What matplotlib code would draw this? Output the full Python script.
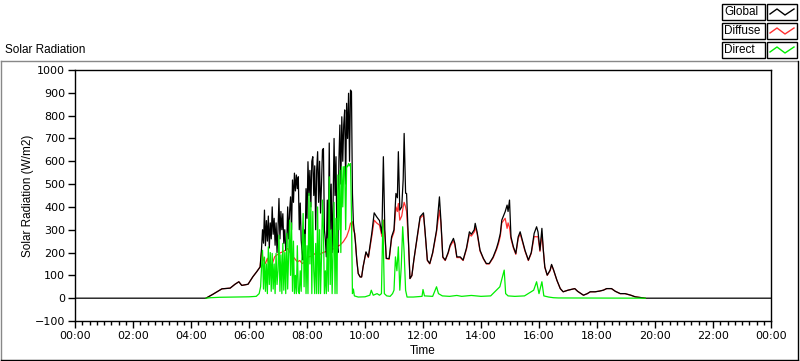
import matplotlib
matplotlib.use('Agg')
import matplotlib.pyplot as plt
from matplotlib.patches import Rectangle
from matplotlib.lines import Line2D
import numpy as np

# time in minutes since midnight, values in W/m2
glob_t = [0, 271, 286, 304, 321, 331, 339, 345, 358, 368, 376, 383,
          386, 388, 390, 392, 394, 396, 398, 400, 402, 404, 406, 408, 410, 412, 414, 416, 418, 420,
          422, 424, 426, 428, 430, 432, 434, 436, 438, 440, 442, 444, 446, 448, 450, 452, 454, 456,
          458, 460, 462, 464, 466, 468, 470, 472, 474, 476, 478, 480, 482, 484, 486, 488, 490, 492,
          494, 496, 498, 500, 502, 504, 506, 508, 510, 512, 514, 516, 518, 520, 522, 524, 526, 528,
          530, 532, 534, 536, 538, 540, 542, 544, 546, 548, 550, 552, 554, 556, 558, 560, 562, 564,
          566, 568, 570, 572, 574, 576,
          580, 583, 586, 590, 593, 596, 602, 607, 614,
          619, 624, 630, 635, 638, 641, 644, 650, 653, 655, 660, 664, 667, 669, 672, 676, 679, 681, 684, 686,
          690, 693, 697, 701, 707, 714, 721, 724, 729, 734, 740, 748, 754, 757, 761, 766, 772, 776, 783, 786,
          790, 797, 803, 810, 816, 820, 826, 828, 832, 838, 845, 851, 857, 865, 872, 876, 880, 883, 890, 894,
          896, 899, 902, 907, 912, 917, 921, 926, 931, 938, 944, 950, 955, 958, 962, 966, 969, 972, 977, 983,
          986, 990, 997, 1004, 1010, 1020, 1034, 1040, 1052, 1060, 1066, 1076, 1085, 1093, 1100, 1110, 1118,
          1128, 1138, 1150, 1159, 1170, 1180, 1440]
glob_v = [0, 0, 18, 41, 44, 61, 72, 56, 61, 94, 116, 137,
          219, 300, 241, 386, 230, 340, 250, 360, 220, 330, 260, 400, 280, 350, 232, 330, 200, 300,
          437, 260, 380, 300, 370, 240, 300, 210, 225, 400, 260, 380, 444, 300, 518, 420, 548, 470,
          540, 480, 532, 300, 417, 254, 200, 167, 300, 200, 480, 350, 598, 450, 560, 400, 600, 620,
          450, 580, 300, 560, 642, 420, 600, 373, 500, 649, 656, 300, 256, 181, 430, 220, 680, 300,
          500, 200, 420, 700, 450, 620, 240, 200, 600, 759, 500, 795, 600, 760, 825, 500, 854, 700,
          898, 600, 912, 905, 460, 329,
          250, 167, 108, 93, 93, 137, 203, 181, 284,
          374, 357, 340, 284, 620, 300, 174, 174, 230, 269, 300, 459, 440, 642, 386, 400, 520, 722, 460, 459,
          240, 86, 100, 167, 254, 357, 374, 300, 167, 152, 200, 298, 444, 342, 181, 167, 200, 232, 262, 240,
          181, 181, 167, 220, 291, 280, 300, 328, 290, 210, 174, 152, 152, 180, 218, 247, 284, 342, 379, 408,
          380, 430, 269, 225, 196, 269, 291, 250, 210, 167, 200, 284, 313, 290, 210, 306, 210, 137, 101, 123,
          148, 125, 79, 42, 28, 35, 42, 30, 13, 20, 28, 28, 31, 35, 42, 42, 30,
          20, 20, 13, 6, 3, 0, 0]

diff_t = [271, 286, 304, 321, 331, 339, 345, 358, 368, 376, 383, 386, 390, 394, 398, 403, 408, 413, 418,
          425, 432, 440, 445, 452, 460, 465, 470, 477, 483, 490, 497, 505, 512, 520, 527, 534, 541, 548, 555,
          562, 567, 570, 574, 576, 579, 583, 586, 590, 593, 596, 602, 607, 614, 619, 624, 630, 635, 638, 641,
          644, 650, 653, 655, 660, 664, 667, 669, 672, 676, 679, 681, 684, 686, 690, 693, 697, 701, 707, 714,
          721, 724, 729, 734, 740, 748, 754, 757, 761, 766, 772, 776, 783, 786, 790, 797, 803, 810, 816, 820,
          826, 828, 832, 838, 845, 851, 857, 865, 872, 876, 880, 883, 890, 894, 896, 899, 902, 907, 912, 917,
          921, 926, 931, 938, 944, 950, 955, 958, 962, 966, 969, 972, 977, 983, 986, 990, 997, 1004, 1010,
          1020, 1034, 1040, 1052, 1060, 1066, 1076, 1085, 1093, 1100, 1110, 1118, 1128, 1138, 1150, 1159,
          1170, 1180]
diff_v = [0, 18, 41, 44, 61, 72, 56, 61, 94, 116, 137, 203, 167, 152, 175, 130, 150, 181, 190,
          199, 205, 218, 200, 180, 159, 165, 152, 160, 181, 185, 196, 190, 199, 205, 218, 215, 225, 232, 247,
          270, 300, 328, 335, 300, 284, 167, 108, 93, 93, 137, 200, 178, 270, 342, 330, 320, 270, 342, 280,
          174, 170, 225, 260, 290, 400, 380, 415, 342, 360, 400, 420, 400, 380, 240, 86, 98, 165, 250, 350,
          365, 295, 165, 150, 196, 290, 386, 330, 178, 165, 196, 226, 252, 232, 178, 178, 165, 215, 280, 272,
          290, 310, 282, 206, 172, 150, 150, 176, 212, 238, 272, 330, 350, 306, 330, 310, 260, 220, 192, 262,
          282, 245, 206, 165, 196, 270, 269, 270, 205, 280, 205, 135, 100, 120, 145, 123, 78, 42, 28,
          35, 42, 30, 13, 20, 28, 28, 31, 35, 42, 42, 30, 20, 20, 13, 6,
          3, 0]

dir_t = [271, 280, 300, 330, 360, 375, 381,
         384, 386, 388, 390, 392, 394, 396, 398, 400, 402, 404, 406, 408, 410, 412, 414, 416, 418,
         420, 422, 424, 426, 428, 430, 432, 434, 436, 438, 440, 442, 444, 446, 448, 450, 452, 454,
         456, 458, 460, 462, 464, 466, 468, 470, 472, 474, 476, 478, 480, 482, 484, 486, 488, 490,
         492, 494, 496, 498, 500, 502, 504, 506, 508, 510, 512, 514, 516, 518, 520, 522, 524, 526,
         528, 530, 532, 534, 536, 538, 540, 542, 544, 546, 548, 550, 552, 554, 556, 558, 560, 562,
         564, 566, 568, 570, 572, 574, 576, 578,
         586, 600, 610, 613, 617,
         625, 630, 634, 637, 640, 645, 652, 657, 660, 663, 666, 669, 672, 675, 678, 681, 684, 687, 700, 718,
         720, 723, 740, 748, 752, 760, 775, 790, 800, 820, 840, 860, 879, 888, 891, 896, 910, 930, 949, 955,
         960, 966, 970, 980, 990, 1000, 1180]
dir_v = [0, 2, 4, 5, 6, 8, 20,
         50, 137, 210, 40, 180, 30, 150, 20, 225, 60, 200, 30, 196, 40, 150, 20, 196, 60,
         120, 276, 30, 190, 20, 240, 35, 200, 20, 284, 40, 200, 342, 100, 330, 30, 250, 20,
         100, 20, 230, 30, 20, 120, 30, 225, 371, 50, 280, 20, 230, 20, 459, 150, 420, 20,
         380, 120, 20, 240, 20, 400, 20, 300, 20, 180, 430, 300, 20, 120, 20, 260, 30, 532,
         60, 300, 20, 200, 420, 20, 350, 20, 540, 300, 561, 200, 576, 400, 576, 576, 300, 580,
         576, 590, 580, 590, 371, 20, 40, 10,
         5, 6, 13, 35, 13,
         20, 13, 20, 342, 20, 10, 8, 20, 35, 181, 120, 225, 35, 137, 313, 200, 35, 5, 5, 8,
         38, 10, 8, 50, 20, 10, 8, 12, 8, 12, 8, 10, 50, 123, 20, 10, 8, 10, 35, 72,
         20, 72, 10, 5, 2, 1, 0]

tick_pos = np.arange(0, 1441, 120)
tick_lab = ['00:00', '02:00', '04:00', '06:00', '08:00', '10:00', '12:00',
            '14:00', '16:00', '18:00', '20:00', '22:00', '00:00']
series = ['Global', 'Diffuse', 'Direct']
colors = ['#000000', '#ff3030', '#00ee00']

W, H = 800, 361
fig = plt.figure(figsize=(W / 100, H / 100), dpi=100)
fig.patch.set_facecolor('white')
lab_font = dict(family='Liberation Sans', fontsize=8.5)

def fx(x):
    return x / W

def fy(y):
    return 1 - y / H

ax = fig.add_axes([fx(75), fy(321), fx(771) - fx(75), fy(70) - fy(321)])
ax.plot(diff_t, diff_v, color=colors[1], lw=0.9, zorder=2)
ax.plot(glob_t, glob_v, color=colors[0], lw=0.9, zorder=3)
ax.plot(dir_t, dir_v, color=colors[2], lw=0.9, zorder=4)

ax.set_xlim(0, 1440)
ax.set_ylim(-100, 1000)
ax.set_xticks(tick_pos)
ax.set_xticklabels(tick_lab)
ax.set_xticks(np.arange(0, 1441, 15), minor=True)
ax.set_yticks(np.arange(-100, 1001, 100))
ax.tick_params(which='major', direction='out', length=5, width=1, labelsize=8, pad=2)
ax.tick_params(which='minor', direction='out', length=3, width=1)
ax.tick_params(axis='y', which='minor', left=False)
ax.set_xlabel('Time', labelpad=3, **lab_font)
ax.set_ylabel('Solar Radiation (W/m2)', labelpad=1, **lab_font)
for s in ax.spines.values():
    s.set_linewidth(1)
    s.set_color('black')

# title of the chart panel
fig.text(fx(5), fy(50), 'Solar Radiation', va='center', ha='left', **lab_font)

# outer panel frame
fig.add_artist(Line2D([fx(0.5), fx(797)], [fy(61), fy(61)], color='#888888', lw=1))
fig.add_artist(Line2D([fx(0.5), fx(0.5)], [fy(61), fy(360)], color='#888888', lw=1))
fig.add_artist(Line2D([fx(0.5), fx(798)], [fy(359.5), fy(359.5)], color='black', lw=1))
fig.add_artist(Line2D([fx(798), fx(798)], [fy(61), fy(359.5)], color='black', lw=1))

# legend boxes
for i, (name, c) in enumerate(zip(series, colors)):
    top = 4 + i * 19
    fig.add_artist(Rectangle((fx(722), fy(top + 16)), fx(765) - fx(722), fy(top) - fy(top + 16),
                             fill=False, edgecolor='black', lw=1))
    fig.text(fx(724), fy(top + 8), name, va='center', ha='left', **lab_font)
    fig.add_artist(Rectangle((fx(767), fy(top + 16)), fx(797) - fx(767), fy(top) - fy(top + 16),
                             fill=False, edgecolor='black', lw=1))
    lx = [770, 777, 785, 794]
    ly = [top + 10, top + 5, top + 11, top + 5]
    fig.add_artist(Line2D([fx(v) for v in lx], [fy(v) for v in ly], color=c, lw=1))

fig.savefig('out.png', dpi=100)
